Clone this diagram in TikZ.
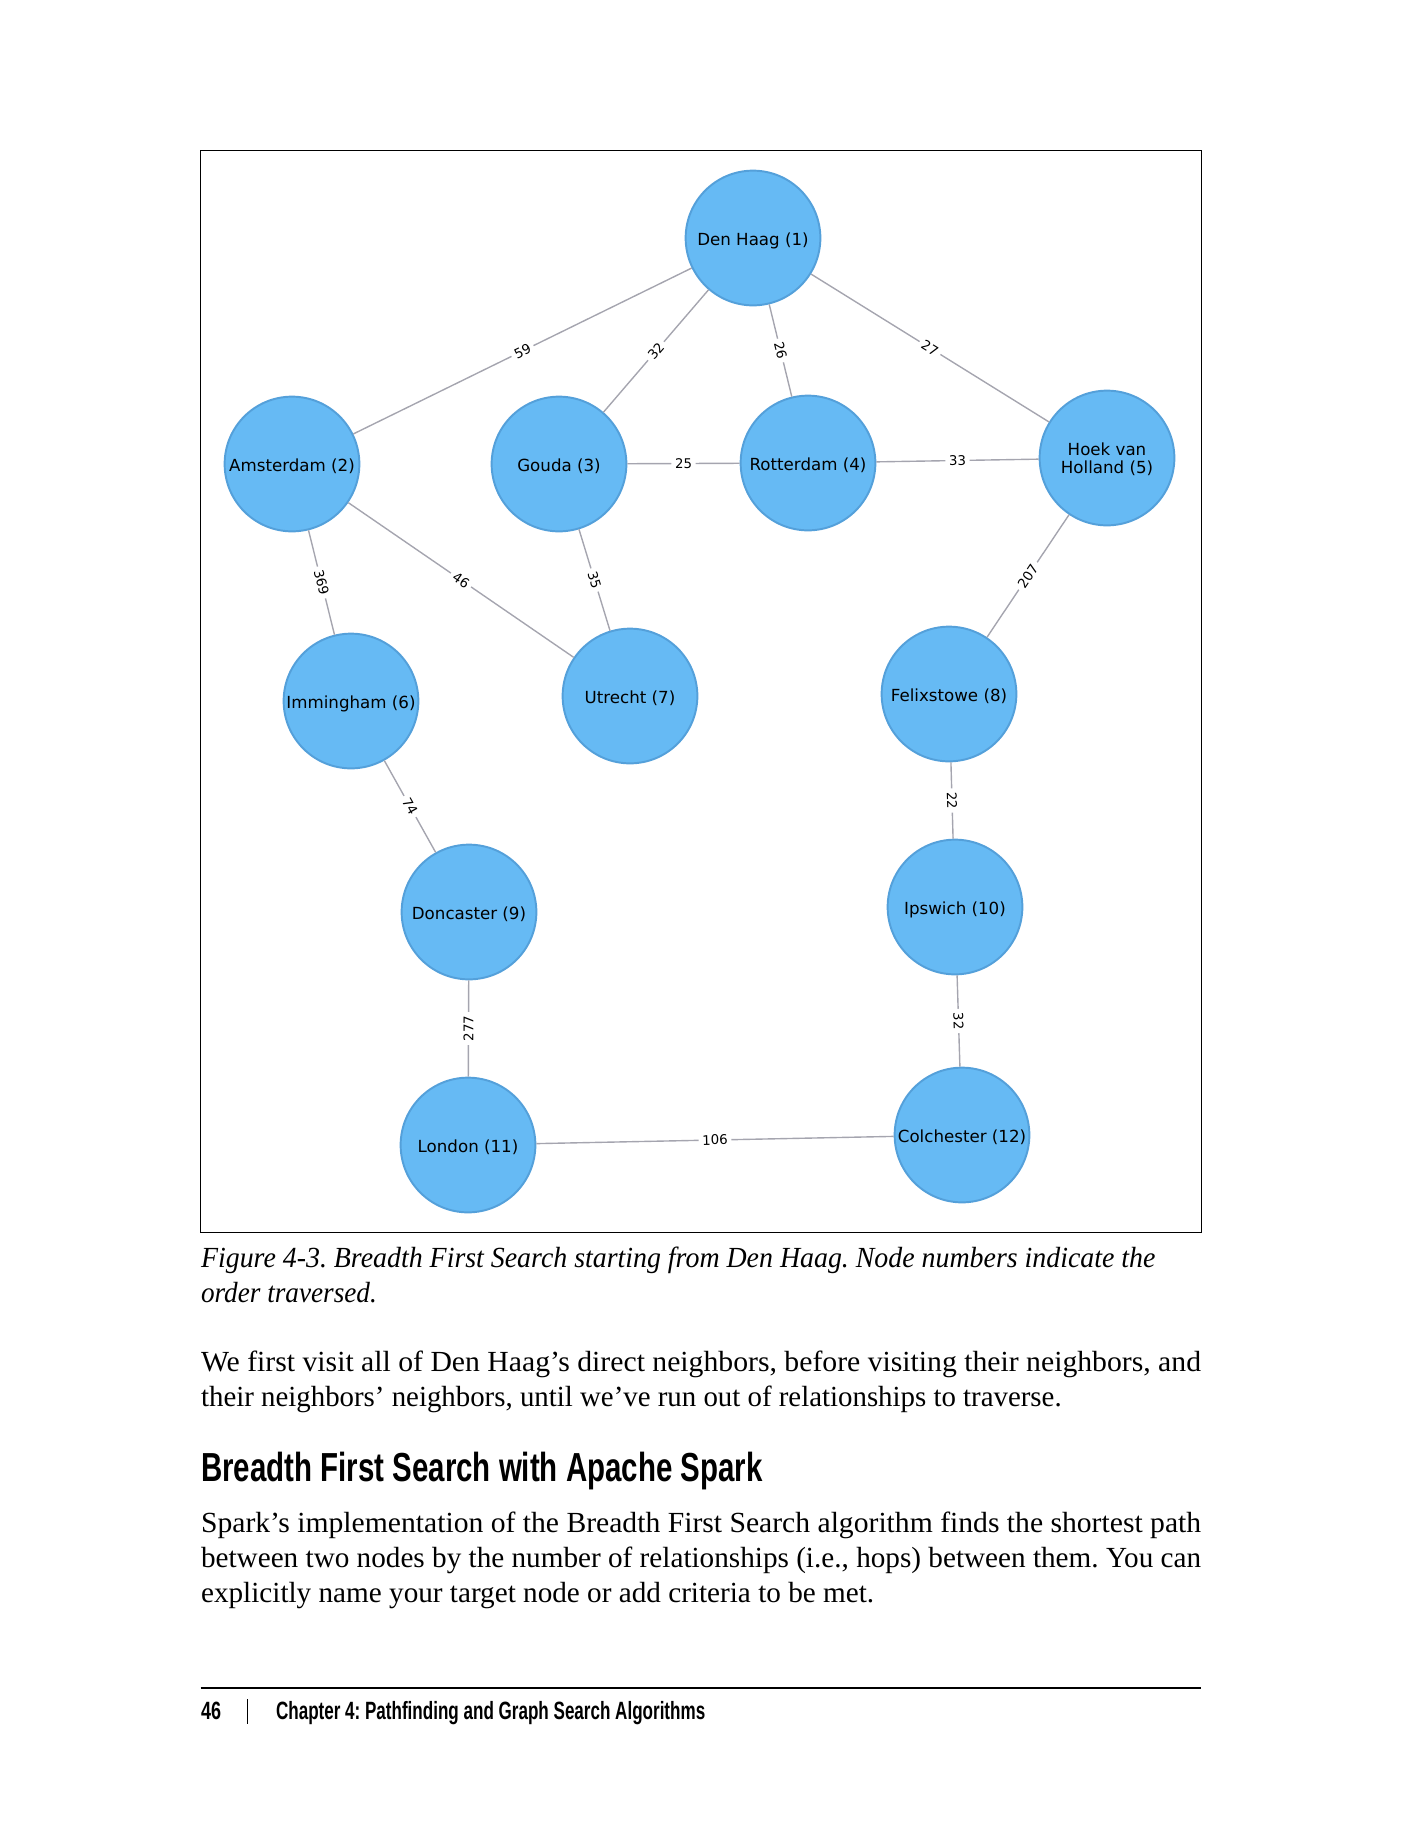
\documentclass[tikz,border=0pt]{standalone}
\usepackage{fontspec}
\setmainfont{Liberation Serif}
\newfontfamily\nodefont{DejaVu Sans}
\newfontfamily\headfont{Liberation Sans}
\usepackage{graphicx}
\frenchspacing
\newcommand{\fitw}[2]{\resizebox{#1}{\height}{#2}}
\definecolor{nodefill}{RGB}{102,186,244}
\definecolor{nodeedge}{RGB}{84,160,218}
\definecolor{edgegray}{RGB}{165,165,175}
\begin{document}
\begin{tikzpicture}[x=0.36pt,y=-0.36pt,
  city/.style={circle, minimum size=48.5pt, inner sep=0pt, fill=nodefill, draw=nodeedge,
    line width=0.7pt, font=\nodefont\fontsize{6}{5.9}\selectfont, text height=6pt, text depth=0.8pt},
  rel/.style={draw=edgegray, line width=0.5pt},
  wt/.style={midway, sloped, fill=white, inner sep=1.3pt,
    font=\nodefont\fontsize{4.8}{5}\selectfont, text=black},
  txt/.style={anchor=base west, inner sep=0pt}]
\useasboundingbox (0,0) rectangle (1400,1838);
% frame
\draw[black, line width=0.55pt] (200.7,150.7) rectangle (1201.3,1232.3);
% nodes
\node[city] (n1)  at (753,238)  {Den Haag (1)};
\node[city] (n2)  at (292,464)  {Amsterdam (2)};
\node[city] (n3)  at (559,464)  {Gouda (3)};
\node[city] (n4)  at (808,463)  {Rotterdam (4)};
\node[city, text height=11.2pt, text depth=0pt] (n5)  at (1107,458)
  {\begin{tabular}[b]{@{}c@{}}Hoek van\\Holland (5)\end{tabular}};
\node[city] (n6)  at (351,701)  {Immingham (6)};
\node[city] (n7)  at (630,696)  {Utrecht (7)};
\node[city] (n8)  at (949,694)  {Felixstowe (8)};
\node[city] (n9)  at (469,912)  {Doncaster (9)};
\node[city] (n10) at (955,907)  {Ipswich (10)};
\node[city] (n11) at (468,1145) {London (11)};
\node[city] (n12) at (962,1135) {Colchester (12)};
% edges
\draw[rel] (n1) -- node[wt]{59} (n2);
\draw[rel] (n1) -- node[wt]{32} (n3);
\draw[rel] (n1) -- node[wt]{26} (n4);
\draw[rel] (n1) -- node[wt]{27} (n5);
\draw[rel] (n2) -- node[wt]{369} (n6);
\draw[rel] (n2) -- node[wt]{46} (n7);
\draw[rel] (n3) -- node[wt]{25} (n4);
\draw[rel] (n3) -- node[wt]{35} (n7);
\draw[rel] (n4) -- node[wt]{33} (n5);
\draw[rel] (n5) -- node[wt]{207} (n8);
\draw[rel] (n6) -- node[wt]{74} (n9);
\draw[rel] (n8) -- node[wt]{22} (n10);
\draw[rel] (n9) -- node[wt]{277} (n11);
\draw[rel] (n10) -- node[wt]{32} (n12);
\draw[rel] (n11) -- node[wt]{106} (n12);
% caption
\node[txt] (cap1) at (200.5,1267) {\fitw{343.6pt}{\itshape\fontsize{10.5}{12}\selectfont Figure 4-3. Breadth First Search starting from Den Haag. Node numbers indicate the}};
\node[txt] (cap2) at (200.5,1302) {\fitw{63.3pt}{\itshape\fontsize{10.5}{12}\selectfont order traversed.}};
% body
\node[txt] (b1) at (200.5,1371) {\fitw{360pt}{\fontsize{10.5}{12}\selectfont We first visit all of Den Haag’s direct neighbors, before visiting their neighbors, and}};
\node[txt] (b2) at (200.5,1406.5) {\fitw{309.8pt}{\fontsize{10.5}{12}\selectfont their neighbors’ neighbors, until we’ve run out of relationships to traverse.}};
% heading
\node[txt] (h) at (200.5,1481) {\fitw{202.2pt}{\headfont\bfseries\fontsize{14.6}{16}\selectfont Breadth First Search with Apache Spark}};
% paragraph
\node[txt] (p1) at (200.5,1532) {\fitw{360pt}{\fontsize{10.5}{12}\selectfont Spark’s implementation of the Breadth First Search algorithm finds the shortest path}};
\node[txt] (p2) at (200.5,1567) {\fitw{360pt}{\fontsize{10.5}{12}\selectfont between two nodes by the number of relationships (i.e., hops) between them. You can}};
\node[txt] (p3) at (200.5,1602) {\fitw{242.3pt}{\fontsize{10.5}{12}\selectfont explicitly name your target node or add criteria to be met.}};
% footer
\draw[black, line width=0.5pt] (200.5,1688) -- (1200.5,1688);
\node[txt] (pg) at (200.5,1719) {\fitw{7.2pt}{\headfont\bfseries\fontsize{9}{10}\selectfont 46}};
\draw[black, line width=0.5pt] (247.4,1699) -- (247.4,1724);
\node[txt] (ch) at (275.5,1719) {\fitw{154.5pt}{\headfont\bfseries\fontsize{9}{10}\selectfont Chapter 4: Pathfinding and Graph Search Algorithms}};
\end{tikzpicture}
\end{document}
